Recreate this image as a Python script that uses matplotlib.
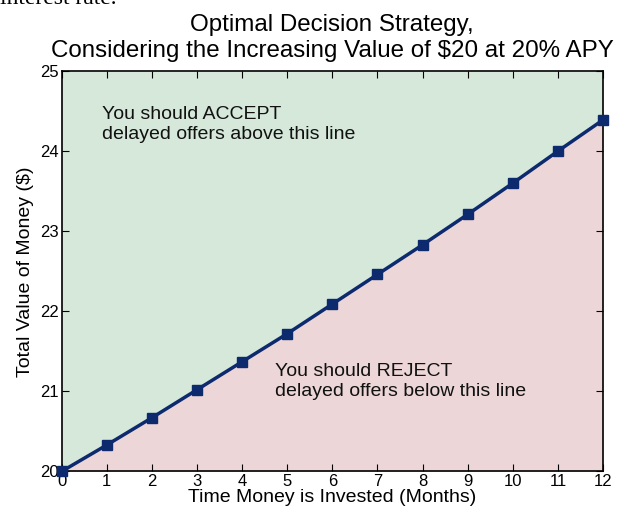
import numpy as np
import matplotlib.pyplot as plt

plt.rcParams['font.family'] = ['Liberation Sans', 'DejaVu Sans']

months = [0, 1, 2, 3, 4, 5, 6, 7, 8, 9, 10, 11, 12]
value = [20.00, 20.33, 20.67, 21.02, 21.37, 21.72, 22.09,
         22.46, 22.83, 23.21, 23.60, 24.00, 24.39]
y_ticks = [20, 21, 22, 23, 24, 25]

fig = plt.figure(figsize=(6.29, 5.13), dpi=100)
ax = fig.add_axes([0.0978, 0.0809, 0.9587 - 0.0978, 0.8615 - 0.0809])

# regions above / below the line
ax.fill_between(months, value, 25, color='#d5e8da', lw=0)
ax.fill_between(months, 20, value, color='#ecd6d7', lw=0)

ax.plot(months, value, color='#0d2a6e', lw=2.5, marker='s',
        markersize=6.5, clip_on=False, zorder=5)

ax.text(0.9, 24.33, "You should ACCEPT\ndelayed offers above this line",
        fontsize=14, va='center', ha='left', color='#111111')
ax.text(4.72, 21.12, "You should REJECT\ndelayed offers below this line",
        fontsize=14, va='center', ha='left', color='#111111')

ax.set_xlim(0, 12)
ax.set_ylim(20, 25)
ax.set_xticks(months)
ax.set_yticks(y_ticks)
ax.tick_params(direction='in', top=True, right=True, length=5,
               labelsize=12, pad=2)
for s in ax.spines.values():
    s.set_linewidth(1.2)

ax.set_xlabel("Time Money is Invested (Months)", fontsize=14, labelpad=0)
ax.set_ylabel("Total Value of Money ($)", fontsize=14, labelpad=4)
ax.set_title("Optimal Decision Strategy,\n"
             "Considering the Increasing Value of $20 at 20% APY",
             fontsize=17.4, pad=10, linespacing=1.25)

# cut-off line of text from the surrounding page
fig.text(0.0, 1 - 4 / 513, "interest rate.", fontsize=17,
         family='Liberation Serif', va='baseline', ha='left')

fig.savefig("out.png", dpi=100)
